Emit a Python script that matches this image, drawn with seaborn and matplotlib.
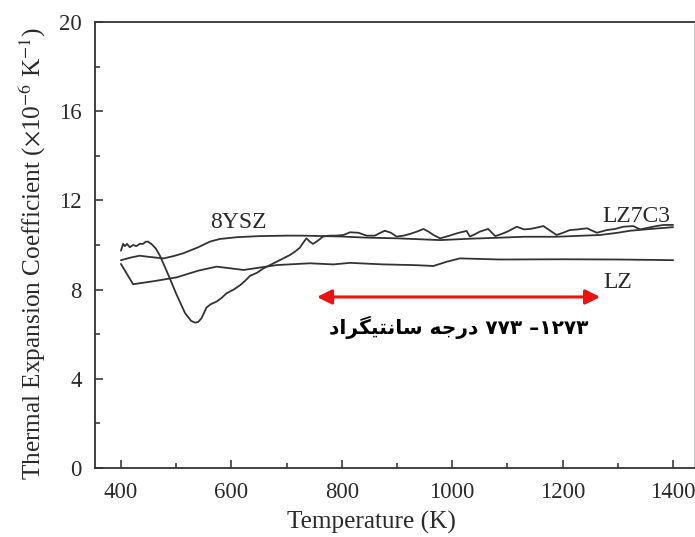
import matplotlib
matplotlib.use("Agg")
import matplotlib.pyplot as plt
import seaborn as sns
import pandas as pd

# Thermal expansion coefficient (x1e-6 1/K) versus temperature (K)
lz7c3_T = [400, 404, 407, 411, 416, 422, 428, 434, 440, 445, 449, 455, 463, 471,
           486, 501, 516, 527, 534, 540, 546, 555, 563, 573, 582, 591, 604, 616,
           625, 634, 646, 658, 670, 682, 694, 706, 715, 724, 730, 736, 742, 748,
           757, 766, 778, 790, 803, 815, 830, 845, 860, 870, 878, 889, 899, 912,
           924, 936, 948, 957, 966, 978, 990, 1008, 1017, 1026, 1032, 1041, 1050,
           1065, 1078, 1090, 1100, 1117, 1130, 1141, 1153, 1165, 1177, 1189, 1201,
           1213, 1228, 1244, 1262, 1280, 1295, 1310, 1328, 1340, 1358, 1370, 1383,
           1400]
lz7c3_cte = [9.75, 10.05, 9.95, 10.05, 9.9, 10.0, 9.95, 10.05, 10.05, 10.15, 10.15,
             10.05, 9.85, 9.5, 8.65, 7.76, 6.95, 6.6, 6.52, 6.55, 6.72, 7.2, 7.35,
             7.46, 7.62, 7.83, 8.0, 8.2, 8.4, 8.62, 8.75, 8.95, 9.1, 9.25, 9.4, 9.55,
             9.7, 9.88, 10.1, 10.3, 10.15, 10.05, 10.2, 10.38, 10.42, 10.42, 10.45,
             10.57, 10.55, 10.42, 10.42, 10.55, 10.64, 10.55, 10.38, 10.42, 10.5,
             10.6, 10.72, 10.6, 10.45, 10.3, 10.38, 10.52, 10.58, 10.63, 10.38,
             10.48, 10.6, 10.72, 10.4, 10.5, 10.6, 10.82, 10.7, 10.72, 10.78, 10.85,
             10.65, 10.45, 10.55, 10.67, 10.7, 10.75, 10.55, 10.67, 10.72, 10.82,
             10.85, 10.7, 10.79, 10.85, 10.9, 10.9]

ysz_T = [400, 420, 434, 450, 477, 495, 513, 540, 561, 579, 610, 652, 700, 730,
         800, 845, 900, 978, 1030, 1087, 1130, 1189, 1268, 1300, 1322, 1360, 1400]
ysz_cte = [9.32, 9.45, 9.52, 9.47, 9.4, 9.5, 9.63, 9.9, 10.15, 10.27, 10.35, 10.4,
           10.42, 10.42, 10.38, 10.33, 10.3, 10.22, 10.28, 10.33, 10.37, 10.37,
           10.45, 10.55, 10.64, 10.72, 10.8]

lz_T = [400, 422, 460, 501, 540, 573, 600, 622, 682, 742, 785, 815, 875, 930, 966,
        990, 1014, 1087, 1200, 1300, 1400]
lz_cte = [9.15, 8.24, 8.38, 8.55, 8.85, 9.03, 8.95, 8.88, 9.1, 9.18, 9.13, 9.2,
          9.13, 9.1, 9.06, 9.25, 9.4, 9.35, 9.36, 9.35, 9.32]

x_ticks = [400, 600, 800, 1000, 1200, 1400]
y_ticks = [0, 4, 8, 12, 16, 20]

# Sintering range marked with a double arrow
range_start, range_end, range_level = 755, 1268, 7.67
# "1273-773 degrees Celsius", written in visual (left-to-right) order with
# Arabic presentation forms so the letters join without a shaping engine
range_label = ("\uFEA9\uFE8D\uFEAE\uFB95\uFEF4\uFE98\uFEE7\uFE8E\uFEB3 "
               "\uFEEA\uFE9F\uFEAD\uFEA9 "
               "\u06F7\u06F7\u06F3 \u2013\u06F1\u06F2\u06F7\u06F3")

sns.set_style("ticks")
serif = "Liberation Serif"
plt.rcParams["font.family"] = [serif, "DejaVu Sans"]
plt.rcParams["mathtext.fontset"] = "stix"

line_color = "#333333"
text_color = "#2a2a2a"
fs_tick = 16.4
fs_curve = 17
fs_label = 18.2

fig = plt.figure(figsize=(6.95, 5.37), dpi=100)
ax = fig.add_axes([0.1367, 0.1285, 0.8619, 0.8305])

frames = [
    pd.DataFrame({"T": lz7c3_T, "cte": lz7c3_cte}),
    pd.DataFrame({"T": ysz_T, "cte": ysz_cte}),
    pd.DataFrame({"T": lz_T, "cte": lz_cte}),
]
for df in frames:
    sns.lineplot(data=df, x="T", y="cte", ax=ax, color=line_color, lw=1.3,
                 estimator=None)

ax.set_xlim(353, 1438)
ax.set_ylim(0, 20)
ax.set_xticks(x_ticks)
ax.set_yticks(y_ticks)
ax.set_xticks([500, 700, 900, 1100, 1300], minor=True)
ax.set_yticks([2, 6, 10, 14, 18], minor=True)
ax.tick_params(which="both", direction="in", top=False, right=False,
               colors=text_color, labelsize=fs_tick, width=1.1)
ax.tick_params(which="major", length=6)
ax.tick_params(which="minor", length=3.5)
ax.tick_params(axis="x", which="major", pad=10)
ax.tick_params(axis="y", which="major", pad=9.5)
for lab in ax.get_xticklabels() + ax.get_yticklabels():
    lab.set_fontfamily(serif)

for side in ["left", "bottom", "top"]:
    ax.spines[side].set_color("#333333")
    ax.spines[side].set_linewidth(1.3)
ax.spines["right"].set_color("#cccccc")
ax.spines["right"].set_linewidth(0.8)

ax.set_xlabel("Temperature (K)", fontsize=fs_label, color=text_color)
ax.set_ylabel(r"Thermal Expansion Coefficient ($\times$10$^{-6}$ K$^{-1}$)",
              fontsize=fs_label, color=text_color)
ax.xaxis.label.set_va("center")
ax.xaxis.set_label_coords(0.462, -0.123)
ax.yaxis.label.set_va("center")
ax.yaxis.set_label_coords(-0.103, 0.482)

ax.text(612, 11.03, "8YSZ", fontsize=fs_curve, color=text_color, ha="center",
        va="center", family=serif)
ax.text(1333, 11.3, "LZ7C3", fontsize=fs_curve, color=text_color, ha="center",
        va="center", family=serif)
ax.text(1300, 8.34, "LZ", fontsize=fs_curve, color=text_color, ha="center",
        va="center", family=serif)

ax.annotate("", xy=(range_start, range_level), xytext=(range_end, range_level),
            arrowprops=dict(arrowstyle="<|-|>", color="#ee1111", lw=2.2,
                            mutation_scale=22, shrinkA=0, shrinkB=0))
ax.text((range_start + range_end) / 2, range_level - 1.35, range_label,
        fontsize=14.5, fontweight="bold", color="black", ha="center",
        va="center", family=["DejaVu Sans"])

fig.savefig("out.png", dpi=100)
